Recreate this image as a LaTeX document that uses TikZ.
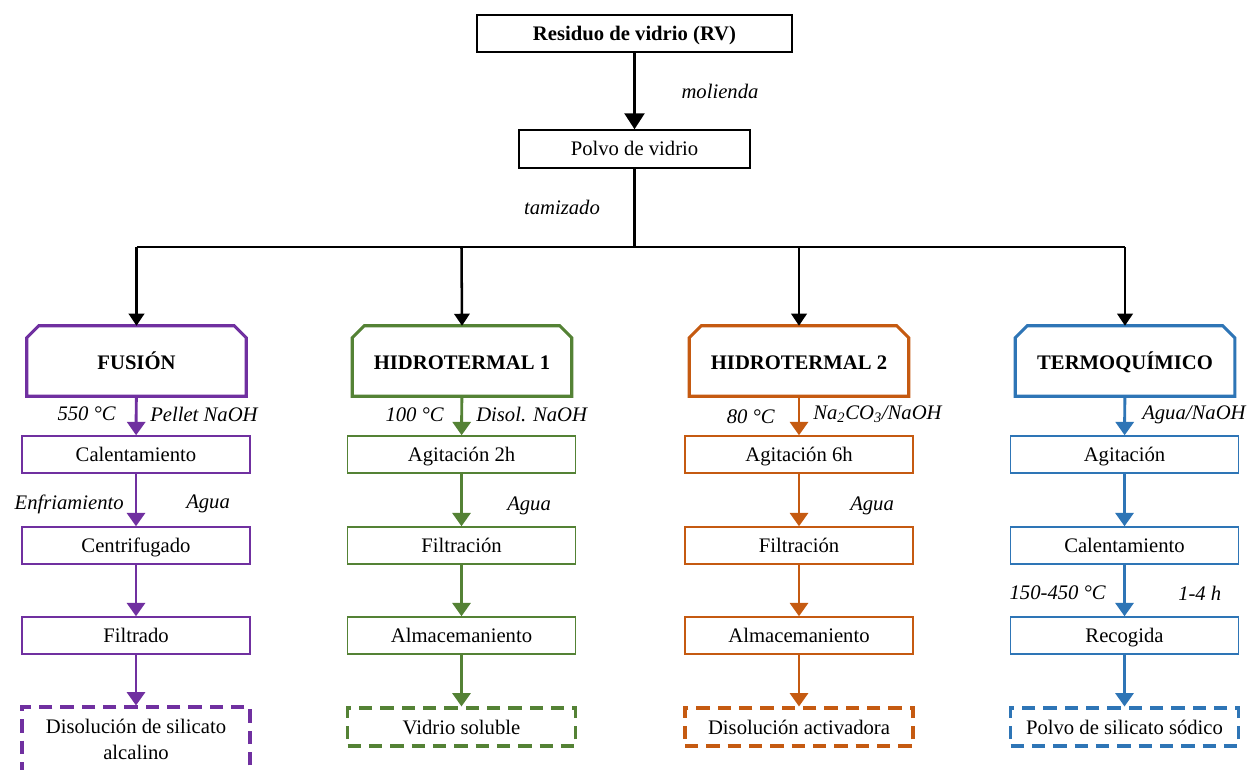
\documentclass[tikz,border=0pt]{standalone}
\usepackage{fontspec}
\setmainfont{Liberation Serif}
\usetikzlibrary{arrows.meta}
\definecolor{cfus}{RGB}{112,48,160}
\definecolor{chi1}{RGB}{84,130,53}
\definecolor{chi2}{RGB}{197,90,17}
\definecolor{cter}{RGB}{46,117,182}
\newcommand\chamf[2]{%
  \draw[line width=2.3pt, #2, line join=miter]
    (#1.south west) -- ([yshift=-9pt]#1.north west) -- ([xshift=9pt]#1.north west)
    -- ([xshift=-9pt]#1.north east) -- ([yshift=-9pt]#1.north east) -- (#1.south east) -- cycle;}
\tikzset{
  x=0.75pt, y=-0.75pt,
  every node/.style={font=\fontsize{15.5}{19}\selectfont, inner sep=0pt},
  blkbox/.style={draw, line width=1.6pt, minimum height=28pt, text height=13pt, text depth=2.8pt},
  hdr/.style={minimum width=164.25pt, minimum height=52.5pt, text height=13pt, text depth=0.3pt, font=\fontsize{15.5}{19}\selectfont\bfseries},
  stepbox/.style={draw, line width=1.1pt, minimum width=171pt, minimum height=27.75pt, text height=13pt, text depth=2.8pt},
  endbox/.style={draw, line width=2.3pt, dash pattern=on 10pt off 6pt, minimum width=171pt, minimum height=28.5pt, align=center},
  lab/.style={font=\fontsize{15.5}{19}\selectfont\itshape},
  blkarrow/.style={line width=1.9pt, -{Triangle[length=12pt,width=15pt]}},
  droparrow/.style={line width=1.9pt, -{Triangle[length=9pt,width=11.5pt]}},
  colarrow/.style={line width=2.2pt, -{Triangle[length=10pt,width=13.5pt]}},
}
\begin{document}
\begin{tikzpicture}
\useasboundingbox (0,0) rectangle (1252,770);
\fill[white] (0,0) rectangle (1252,770);

% top
\node[blkbox, minimum width=236.25pt, font=\fontsize{15.5}{19}\selectfont\bfseries] (rv) at (634.5,33.5) {Residuo de vidrio (RV)};
\node[blkbox, minimum width=173.25pt] (pv) at (634.5,149) {Polvo de vidrio};
\draw[blkarrow] (rv) -- (pv);
\node[lab] (mol) at (720,91) {molienda};
\node[lab] (tam) at (562,207) {tamizado};

\coordinate (j) at (634.5,247);
\coordinate (b1) at (136.5,247);
\coordinate (b2) at (461.5,247);
\coordinate (b3) at (799,247);
\coordinate (b4) at (1125,247);
\draw[line width=1.9pt] (pv) -- (j);
\draw[line width=1.9pt] (b1) -- (b4);

% headers
\node[hdr] (h1) at (136.5,361) {FUSIÓN};
\node[hdr] (h2) at (462,361) {HIDROTERMAL 1};
\node[hdr] (h3) at (799,361) {HIDROTERMAL 2};
\node[hdr] (h4) at (1125,361) {TERMOQUÍMICO};
\chamf{h1}{cfus}
\chamf{h2}{chi1}
\chamf{h3}{chi2}
\chamf{h4}{cter}
\draw[droparrow] (b1) -- (h1.north);
\draw[droparrow] (b2) -- (h2.north);
\draw[droparrow] (b3) -- (h3.north);
\draw[droparrow] (b4) -- (h4.north);

% column 1
\node[stepbox, cfus] (f1) at (136,454.5) {\color{black}Calentamiento};
\node[stepbox, cfus] (f2) at (136,545.5) {\color{black}Centrifugado};
\node[stepbox, cfus] (f3) at (136,635.5) {\color{black}Filtrado};
\node[endbox, cfus, minimum height=48.75pt] (f4) at (136,739.5) {\color{black}Disolución de silicato\\\color{black}alcalino};
\draw[colarrow, cfus] (h1) -- (f1);
\draw[colarrow, cfus] (f1) -- (f2);
\draw[colarrow, cfus] (f2) -- (f3);
\draw[colarrow, cfus] (f3) -- (f4);
\node[lab, anchor=east] (l11) at (116,414) {550 °C};
\node[lab, anchor=west] (l12) at (150,414) {Pellet NaOH};
\node[lab, anchor=east] (l13) at (124,504) {Enfriamiento};
\node[lab, anchor=west] (l14) at (186,504) {Agua};

% column 2
\node[stepbox, chi1] (g1) at (461.5,454.5) {\color{black}Agitación 2h};
\node[stepbox, chi1] (g2) at (461.5,545.5) {\color{black}Filtración};
\node[stepbox, chi1] (g3) at (461.5,635.5) {\color{black}Almacemaniento};
\node[endbox, chi1] (g4) at (461.5,727) {\color{black}Vidrio soluble};
\draw[colarrow, chi1] (h2) -- (g1);
\draw[colarrow, chi1] (g1) -- (g2);
\draw[colarrow, chi1] (g2) -- (g3);
\draw[colarrow, chi1] (g3) -- (g4);
\node[lab, anchor=east] (l21) at (444,415) {100 °C};
\node[lab, anchor=west] (l22) at (476,414) {Disol. NaOH};
\node[lab, anchor=west] (l23) at (507,506) {Agua};

% column 3
\node[stepbox, chi2] (k1) at (799,454.5) {\color{black}Agitación 6h};
\node[stepbox, chi2] (k2) at (799,545.5) {\color{black}Filtración};
\node[stepbox, chi2] (k3) at (799,635.5) {\color{black}Almacemaniento};
\node[endbox, chi2] (k4) at (799,727) {\color{black}Disolución activadora};
\draw[colarrow, chi2] (h3) -- (k1);
\draw[colarrow, chi2] (k1) -- (k2);
\draw[colarrow, chi2] (k2) -- (k3);
\draw[colarrow, chi2] (k3) -- (k4);
\node[lab, anchor=east] (l31) at (775,417) {80 °C};
\node[lab, anchor=west] (l32) at (813,414) {Na\textsubscript{2}CO\textsubscript{3}/NaOH};
\node[lab, anchor=west] (l33) at (850,506) {Agua};

% column 4
\node[stepbox, cter] (t1) at (1124.5,454.5) {\color{black}Agitación};
\node[stepbox, cter] (t2) at (1124.5,545.5) {\color{black}Calentamiento};
\node[stepbox, cter] (t3) at (1124.5,635.5) {\color{black}Recogida};
\node[endbox, cter] (t4) at (1124.5,727) {\color{black}Polvo de silicato sódico};
\draw[colarrow, cter] (h4) -- (t1);
\draw[colarrow, cter] (t1) -- (t2);
\draw[colarrow, cter] (t2) -- (t3);
\draw[colarrow, cter] (t3) -- (t4);
\node[lab, anchor=west] (l41) at (1142,415) {Agua/NaOH};
\node[lab, anchor=east] (l42) at (1106,593) {150-450 °C};
\node[lab, anchor=west] (l43) at (1178,593) {1-4 h};
\end{tikzpicture}
\end{document}
